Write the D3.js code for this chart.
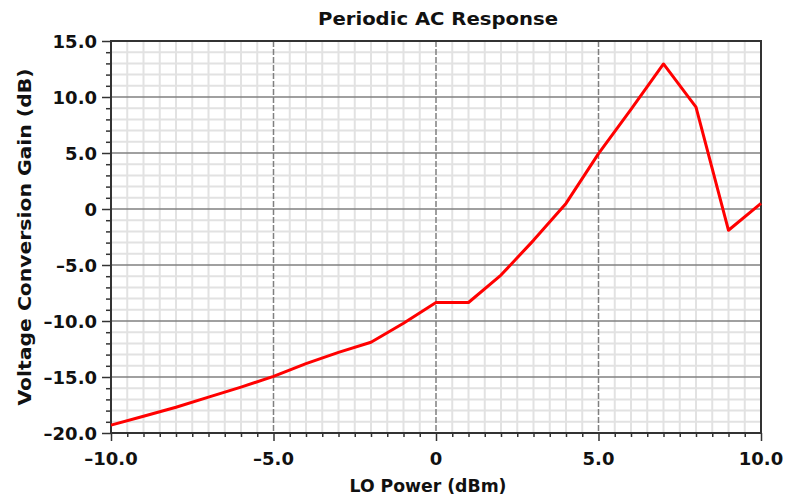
<!DOCTYPE html>
<html>
<head>
<meta charset="utf-8">
<script src="https://cdn.jsdelivr.net/npm/d3@7"></script>
<style>
  body { margin: 0; background: #fff; }
  text { font-family: "DejaVu Sans", Verdana, sans-serif; font-weight: bold; fill: #111; }
</style>
</head>
<body>
<svg id="chart" width="786" height="497"></svg>
<script>
// LO power sweep (dBm) and the conversion gain (dB)
const loPower = [-10, -9, -8, -7, -6, -5, -4, -3, -2, -1, 0, 1, 2, 3, 4, 5, 6, 7, 8, 9, 10];
const gain = [-19.3, -18.5, -17.7, -16.8, -15.9, -14.95, -13.8, -12.8, -11.9, -10.2, -8.35,
  -8.35, -5.9, -2.8, 0.5, 4.95, 8.9, 12.95, 9.1, -1.9, 0.5];

const xTicks = [-10, -5, 0, 5, 10];
const yTicks = [-20, -15, -10, -5, 0, 5, 10, 15];
const title = "Periodic AC Response";
const xLabel = "LO Power (dBm)";
const yLabel = "Voltage Conversion Gain (dB)";

const margin = {top: 41, right: 25, bottom: 64, left: 111};
const outerWidth = 786;
const outerHeight = 497;
const innerWidth = outerWidth - margin.left - margin.right;
const innerHeight = outerHeight - margin.top - margin.bottom;

const x = d3.scaleLinear().domain([-10, 10]).range([0, innerWidth]);
const y = d3.scaleLinear().domain([-20, 15]).range([innerHeight, 0]);

function fmt(v) {
  if (v === 0) { return "0"; }
  return (v < 0 ? "\u2013" : "") + Math.abs(v).toFixed(1);
}

const svg = d3.select("#chart");
const graph = svg.append("g").attr("transform", `translate(${margin.left},${margin.top})`);

// minor grid
const xMinor = d3.range(-10, 10.01, 0.5).filter(v => v % 5 !== 0);
const yMinor = d3.range(-20, 15.01, 1).filter(v => v % 5 !== 0);
graph.append("g").selectAll("line").data(xMinor).join("line")
  .attr("x1", d => x(d)).attr("x2", d => x(d))
  .attr("y1", 0).attr("y2", innerHeight)
  .style("stroke", "#e2e2e2").style("stroke-width", 2);
graph.append("g").selectAll("line").data(yMinor).join("line")
  .attr("x1", 0).attr("x2", innerWidth)
  .attr("y1", d => y(d)).attr("y2", d => y(d))
  .style("stroke", "#e2e2e2").style("stroke-width", 2);

// major grid: dashed verticals, solid horizontals
graph.append("g").selectAll("line").data(xTicks.slice(1, -1)).join("line")
  .attr("x1", d => x(d)).attr("x2", d => x(d))
  .attr("y1", 0).attr("y2", innerHeight)
  .style("stroke", "#808080").style("stroke-width", 1.5)
  .style("stroke-dasharray", "6,2");
graph.append("g").selectAll("line").data(yTicks.slice(1, -1)).join("line")
  .attr("x1", 0).attr("x2", innerWidth)
  .attr("y1", d => y(d)).attr("y2", d => y(d))
  .style("stroke", "#808080").style("stroke-width", 1.5);

// frame
graph.append("rect")
  .attr("width", innerWidth).attr("height", innerHeight)
  .style("fill", "none").style("stroke", "#333").style("stroke-width", 2);

// ticks (minor then major); labels are drawn separately below
const xAxisMinor = d3.axisBottom(x).tickValues(xMinor).tickSize(4).tickFormat("");
const xAxisMajor = d3.axisBottom(x).tickValues(xTicks).tickSize(8).tickFormat("");
const yAxisMinor = d3.axisLeft(y).tickValues(yMinor).tickSize(5).tickFormat("");
const yAxisMajor = d3.axisLeft(y).tickValues(yTicks).tickSize(9).tickFormat("");
function styleTicks(g) {
  g.select(".domain").remove();
  g.selectAll("text").remove();
  g.selectAll("line").style("stroke", "#333").style("stroke-width", 1.5);
}
[xAxisMinor, xAxisMajor].forEach(axis => {
  graph.append("g").attr("transform", `translate(0,${innerHeight})`).call(axis).call(styleTicks);
});
[yAxisMinor, yAxisMajor].forEach(axis => {
  graph.append("g").call(axis).call(styleTicks);
});

graph.append("g").selectAll("text").data(xTicks).join("text")
  .attr("x", d => x(d))
  .attr("y", innerHeight + 32)
  .attr("text-anchor", "middle")
  .style("font-size", "18px")
  .text(fmt);
graph.append("g").selectAll("text").data(yTicks).join("text")
  .attr("x", -14)
  .attr("y", d => y(d) + 7)
  .attr("text-anchor", "end")
  .style("font-size", "18px")
  .text(fmt);

// data line
const line = d3.line()
  .x((d, i) => x(loPower[i]))
  .y(d => y(d));
graph.append("path")
  .datum(gain)
  .attr("d", line)
  .style("fill", "none")
  .style("stroke", "#ff0000")
  .style("stroke-width", 3)
  .style("stroke-linejoin", "round");

// titles
svg.append("text")
  .attr("x", 438)
  .attr("y", 25)
  .attr("text-anchor", "middle")
  .attr("textLength", 240)
  .attr("lengthAdjust", "spacingAndGlyphs")
  .style("font-size", "18px")
  .text(title);
svg.append("text")
  .attr("x", 428)
  .attr("y", 492)
  .attr("text-anchor", "middle")
  .attr("textLength", 157)
  .attr("lengthAdjust", "spacingAndGlyphs")
  .style("font-size", "18px")
  .text(xLabel);
svg.append("text")
  .attr("transform", "translate(31,237) rotate(-90)")
  .attr("text-anchor", "middle")
  .attr("textLength", 337)
  .attr("lengthAdjust", "spacingAndGlyphs")
  .style("font-size", "18px")
  .text(yLabel);
</script>
</body>
</html>
